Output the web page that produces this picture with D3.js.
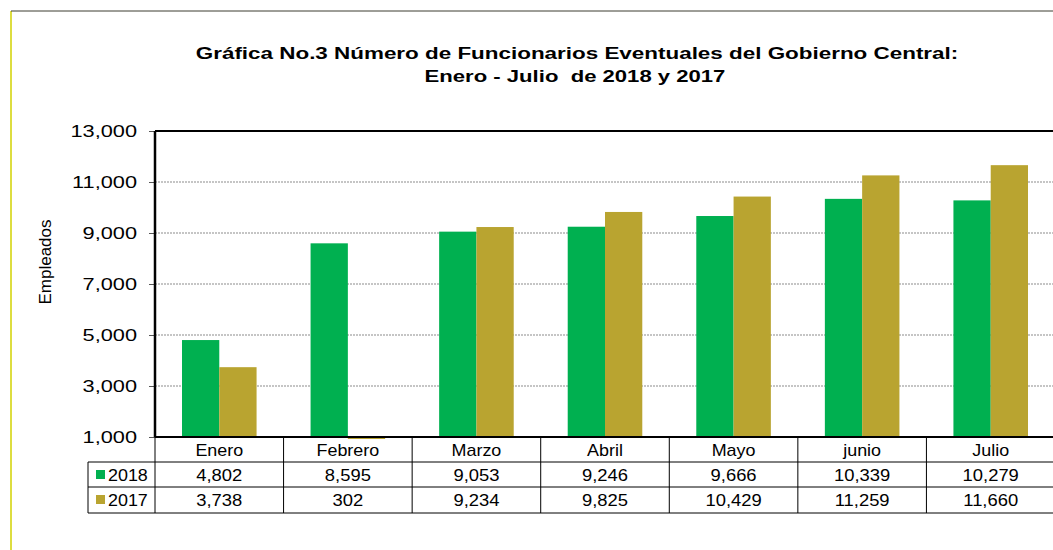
<!DOCTYPE html>
<html>
<head>
<meta charset="utf-8">
<script src="https://cdn.jsdelivr.net/npm/d3@7"></script>
<style>
  body { margin: 0; background: #fff; }
  text { font-family: "Liberation Sans", Arial, sans-serif; fill: #000; }
</style>
</head>
<body>
<script>
// chart data
var months = ["Enero", "Febrero", "Marzo", "Abril", "Mayo", "junio", "Julio"];
var series = ["2018", "2017"];
var values2018 = [4802, 8595, 9053, 9246, 9666, 10339, 10279];
var values2017 = [3738, 302, 9234, 9825, 10429, 11259, 11660];
var yTicks = [1000, 3000, 5000, 7000, 9000, 11000, 13000];
var colors = ["#00b050", "#b9a430"];

// text in the original is a bit wider than Liberation Sans, so stretch it
function wideText(parent, x, y, s, str, size, anchor) {
  return parent.append("text")
    .attr("transform", `translate(${x},${y}) scale(${s},1)`)
    .attr("text-anchor", anchor || "middle")
    .style("font-size", size + "px")
    .attr("xml:space", "preserve")
    .text(str);
}

function drawChart() {
  var svgWidth = 1053, svgHeight = 550;
  var margin = { top: 131, left: 155, right: -2, bottom: 113 };
  var width = svgWidth - margin.left - margin.right;
  var height = svgHeight - margin.top - margin.bottom;

  var svg = d3.select("body").append("svg")
    .attr("width", svgWidth)
    .attr("height", svgHeight);

  // outer frame: yellow left edge, dark top edge
  svg.append("line").attr("x1", 11).attr("x2", 11).attr("y1", 11).attr("y2", svgHeight)
    .attr("stroke", "#d2d200").attr("stroke-width", 1.5);
  svg.append("line").attr("x1", 11).attr("x2", svgWidth).attr("y1", 11).attr("y2", 11)
    .attr("stroke", "#3c3c30").attr("stroke-width", 1);

  // title
  wideText(svg, 577, 59, 1.32, "Gráfica No.3 Número de Funcionarios Eventuales del Gobierno Central:", 17)
    .style("font-weight", "bold");
  wideText(svg, 575, 82, 1.3, "Enero - Julio  de 2018 y 2017", 17)
    .style("font-weight", "bold");

  var chartGroup = svg.append("g")
    .attr("transform", `translate(${margin.left}, ${margin.top})`);

  var x0 = d3.scaleBand().domain(months).range([0, width]).paddingInner(0).paddingOuter(0);
  var x1 = d3.scaleBand().domain(series).range([x0.bandwidth() * 0.21, x0.bandwidth() * 0.79]);
  var y = d3.scaleLinear().domain([1000, 13000]).range([height, 0]);

  // gridlines
  chartGroup.append("g").selectAll("line")
    .data(yTicks.slice(1, -1))
    .enter().append("line")
    .attr("x1", 0).attr("x2", width)
    .attr("y1", d => y(d)).attr("y2", d => y(d))
    .attr("stroke", "#8c8c8c").attr("stroke-width", 1.2)
    .attr("stroke-dasharray", "2,1");

  // y axis
  var leftAxis = d3.axisLeft(y).tickValues(yTicks).tickSize(6).tickPadding(12)
    .tickFormat(d3.format(","));
  var yAxis = chartGroup.append("g").call(leftAxis);
  yAxis.select(".domain").remove();
  yAxis.selectAll(".tick line").attr("stroke", "#555");
  yAxis.selectAll("text")
    .style("font-size", "17px").attr("font-family", null)
    .attr("transform", "translate(-18,0) scale(1.28,1) translate(18,0)");

  // bars
  var data = months.map((m, i) => ({ month: m, vals: [values2018[i], values2017[i]] }));
  var groups = chartGroup.selectAll(".grp")
    .data(data).enter().append("g")
    .attr("transform", d => `translate(${x0(d.month)},0)`);
  groups.selectAll("rect")
    .data(d => d.vals.map((v, j) => ({ key: series[j], v: v, j: j })))
    .enter().append("rect")
    .attr("x", d => x1(d.key))
    .attr("width", x1.bandwidth())
    .attr("y", d => d.v >= 1000 ? y(d.v) : height)
    .attr("height", d => d.v >= 1000 ? height - y(d.v) : 2)
    .attr("fill", d => colors[d.j]);

  // plot frame
  chartGroup.append("line").attr("x1", 0).attr("x2", width).attr("y1", 0).attr("y2", 0)
    .attr("stroke", "#000").attr("stroke-width", 2);
  chartGroup.append("line").attr("x1", 0).attr("x2", width).attr("y1", height).attr("y2", height)
    .attr("stroke", "#000").attr("stroke-width", 2);
  chartGroup.append("line").attr("x1", 0).attr("x2", 0).attr("y1", 0).attr("y2", height)
    .attr("stroke", "#000").attr("stroke-width", 2.5);

  // data table
  var rowH = [0, 25, 50, 76];
  var tableLeft = 88 - margin.left;
  var table = chartGroup.append("g").attr("transform", `translate(0, ${height})`);
  rowH.slice(1).forEach(function(r) {
    table.append("line").attr("x1", tableLeft).attr("x2", width).attr("y1", r).attr("y2", r).attr("stroke", "#000");
  });
  table.append("line").attr("x1", tableLeft).attr("x2", tableLeft).attr("y1", rowH[1]).attr("y2", rowH[3]).attr("stroke", "#000");
  table.selectAll(".vline")
    .data(months).enter().append("line")
    .attr("x1", d => x0(d)).attr("x2", d => x0(d))
    .attr("y1", 0).attr("y2", rowH[3])
    .attr("stroke", "#000");

  months.forEach(function(m) {
    wideText(table, x0(m) + x0.bandwidth() / 2, rowH[0] + 19, 1.12, m, 16);
  });

  var fmt = d3.format(",");
  [values2018, values2017].forEach(function(vals, j) {
    vals.forEach(function(v, i) {
      wideText(table, x0(months[i]) + x0.bandwidth() / 2, rowH[j + 1] + 19, 1.15, fmt(v), 16);
    });
    table.append("rect")
      .attr("x", tableLeft + 8).attr("y", rowH[j + 1] + 8)
      .attr("width", 9).attr("height", 9)
      .attr("fill", colors[j]);
    wideText(table, tableLeft + 20, rowH[j + 1] + 19, 1.12, series[j], 16, "start");
  });

  // y axis label
  svg.append("text")
    .attr("transform", "rotate(-90)")
    .attr("x", -262).attr("y", 51)
    .attr("text-anchor", "middle")
    .style("font-size", "17px")
    .text("Empleados");
}

drawChart();
</script>
</body>
</html>
